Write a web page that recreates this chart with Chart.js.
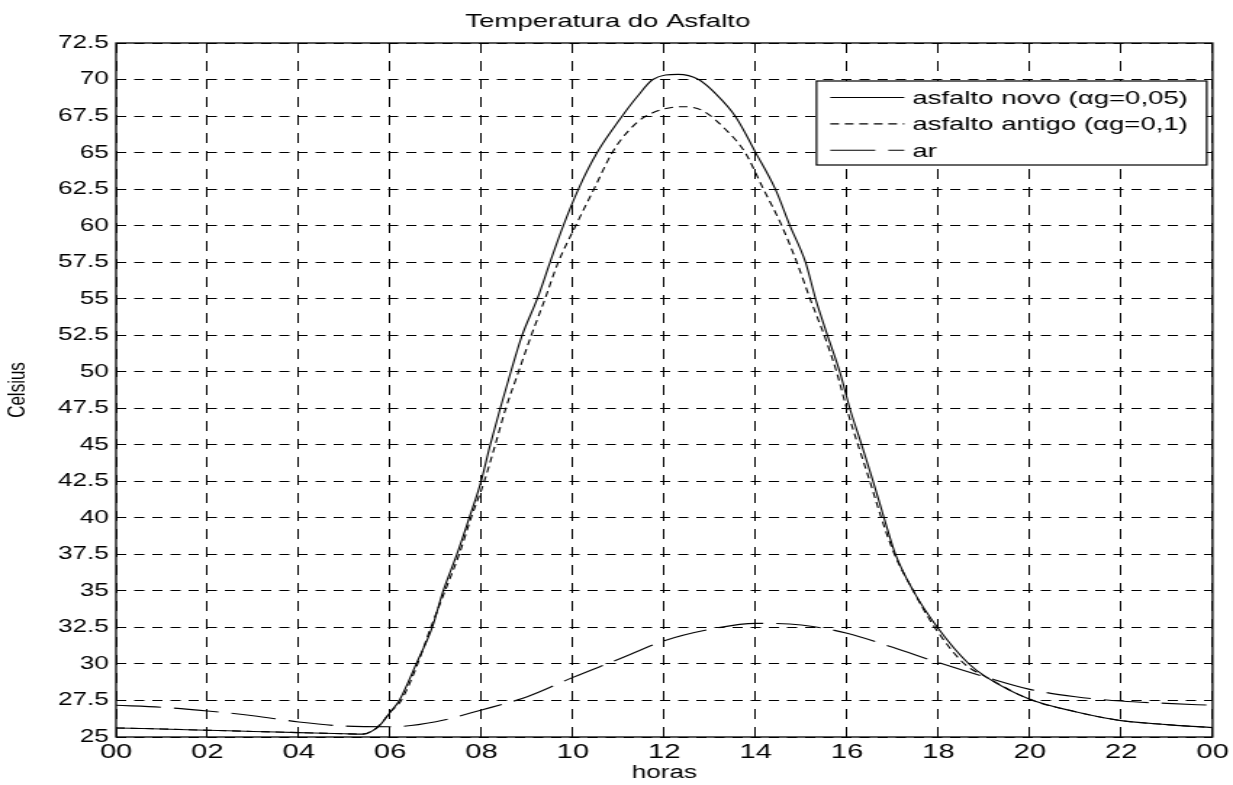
<!DOCTYPE html>
<html>
<head>
<meta charset="utf-8">
<title>Temperatura do Asfalto</title>
<script src="https://cdn.jsdelivr.net/npm/chart.js@4.4.1/dist/chart.umd.min.js"></script>
<style>
  html, body { margin: 0; padding: 0; background: #fff; overflow: hidden; }
  #grafico { display: block; }
</style>
</head>
<body>
<!-- the figure is drawn narrow and stretched sideways, like the original export -->
<canvas id="grafico" width="850" height="785" style="width:1233px;height:785px"></canvas>
<script>
// Values (hours, Celsius)
const novoHoras = [0, 1, 2, 3, 4, 5, 5.4, 5.6, 5.8, 6, 6.2, 6.57, 6.92, 7.16, 7.46, 7.73, 7.99, 8.19, 8.41, 8.64, 8.89, 9.22, 9.5, 9.79, 10.12, 10.53, 11.08, 11.4, 11.75, 12.3, 12.75, 13.15, 13.55, 14.0, 14.43, 14.75, 15.09, 15.31, 15.57, 15.84, 16.06, 16.32, 16.57, 16.81, 17.06, 17.45, 17.98, 18.67, 19.05, 20, 21, 22, 23, 24];
const novoTemp = [25.62, 25.55, 25.46, 25.38, 25.3, 25.22, 25.2, 25.4, 25.9, 26.7, 27.5, 30, 32.5, 35, 37.5, 40, 42.5, 45, 47.5, 50, 52.5, 55, 57.5, 60, 62.5, 65, 67.5, 68.8, 70, 70.35, 70, 68.95, 67.5, 65, 62.5, 60, 57.5, 55, 52.5, 50, 47.5, 45, 42.5, 40, 37.5, 35, 32.5, 30, 29.1, 27.58, 26.73, 26.12, 25.85, 25.64];

const antigoHoras = [0, 1, 2, 3, 4, 5, 5.4, 5.6, 5.8, 6, 6.24, 6.6, 6.89, 7.2, 7.51, 7.77, 8.06, 8.3, 8.53, 8.81, 9.09, 9.39, 9.68, 10.06, 10.46, 10.86, 11.22, 11.6, 12.4, 12.82, 13.4, 13.77, 14.17, 14.57, 14.9, 15.19, 15.5, 15.77, 15.99, 16.24, 16.5, 16.75, 17.04, 17.45, 17.92, 18.57, 19.05, 20, 21, 22, 23, 24];
const antigoTemp = [25.62, 25.55, 25.46, 25.38, 25.3, 25.22, 25.2, 25.4, 25.9, 26.7, 27.5, 30, 32.5, 35, 37.5, 40, 42.5, 45, 47.5, 50, 52.5, 55, 57.5, 60, 62.5, 65, 66.5, 67.5, 68.14, 67.9, 66.4, 65, 62.5, 60, 57.5, 55, 52.5, 50, 47.5, 45, 42.5, 40, 37.5, 35, 32.5, 30, 29.1, 27.58, 26.73, 26.12, 25.85, 25.64];

const arHoras = [0, 1, 2, 3, 4, 5, 6, 7, 8, 9, 10, 11, 12, 13, 14, 15, 16, 17, 18, 19, 20, 21, 22, 23, 24];
const arTemp = [27.17, 27.03, 26.78, 26.46, 26.03, 25.75, 25.7, 26.05, 26.85, 27.76, 29.08, 30.32, 31.59, 32.37, 32.78, 32.67, 32.1, 31.14, 30.09, 29.13, 28.26, 27.76, 27.46, 27.3, 27.17];

const xTickLabels = ['00', '02', '04', '06', '08', '10', '12', '14', '16', '18', '20', '22', '00'];
const fonte = '"Liberation Sans", Arial, Helvetica, sans-serif';

Chart.defaults.font.family = fonte;
Chart.defaults.color = '#000';

const pontos = (hs, vs) => hs.map((h, i) => ({ x: h, y: vs[i] }));

// box around the plot area
const moldura = {
    id: 'moldura',
    afterDatasetsDraw(chart) {
        const { ctx, chartArea } = chart;
        ctx.save();
        ctx.strokeStyle = '#000';
        ctx.lineWidth = 1.3;
        ctx.strokeRect(chartArea.left, chartArea.top, chartArea.width, chartArea.height);
        ctx.restore();
    }
};

// legend drawn inside the plot, top right, like matlab does
const legendaInterna = {
    id: 'legendaInterna',
    afterDraw(chart) {
        const { ctx, chartArea } = chart;
        const w = 269, h = 84;
        const x0 = chartArea.right - 4 - w;
        const y0 = chartArea.top + 38;
        ctx.save();
        ctx.fillStyle = '#fff';
        ctx.fillRect(x0, y0, w, h);
        ctx.strokeStyle = '#000';
        ctx.lineWidth = 1.2;
        ctx.strokeRect(x0, y0, w, h);
        ctx.font = '19px ' + fonte;
        ctx.textBaseline = 'middle';
        ctx.fillStyle = '#000';
        chart.data.datasets.forEach((ds, i) => {
            const y = y0 + 16.5 + i * 26.4;
            ctx.setLineDash(ds.borderDash || []);
            ctx.lineWidth = ds.borderWidth;
            ctx.beginPath();
            ctx.moveTo(x0 + 9.5, y);
            ctx.lineTo(x0 + 60.5, y);
            ctx.stroke();
            ctx.setLineDash([]);
            ctx.fillText(ds.label, x0 + 66, y + 1);
        });
        ctx.restore();
    }
};

const ctx = document.getElementById('grafico').getContext('2d');
const chart = new Chart(ctx, {
    type: 'line',
    data: {
        datasets: [
            {
                label: 'asfalto novo (αg=0,05)',
                data: pontos(novoHoras, novoTemp),
                borderColor: '#000',
                borderWidth: 1.1,
                borderDash: [],
                pointRadius: 0,
                cubicInterpolationMode: 'monotone'
            },
            {
                label: 'asfalto antigo (αg=0,1)',
                data: pontos(antigoHoras, antigoTemp),
                borderColor: '#000',
                borderWidth: 1.1,
                borderDash: [6, 4],
                pointRadius: 0,
                cubicInterpolationMode: 'monotone'
            },
            {
                label: 'ar',
                data: pontos(arHoras, arTemp),
                borderColor: '#000',
                borderWidth: 1.1,
                borderDash: [31, 9],
                pointRadius: 0,
                cubicInterpolationMode: 'monotone'
            }
        ]
    },
    options: {
        responsive: false,
        animation: false,
        layout: { padding: { left: 0, right: 12, top: 0, bottom: 0 } },
        plugins: {
            legend: { display: false },
            tooltip: { enabled: false },
            title: {
                display: true,
                text: 'Temperatura do Asfalto',
                color: '#000',
                font: { size: 19, weight: 'normal' },
                padding: { top: 10, bottom: 10.2 }
            }
        },
        scales: {
            x: {
                type: 'linear',
                min: 0,
                max: 24,
                afterFit: (s) => { s.height = 48; },
                ticks: {
                    stepSize: 2,
                    autoSkip: false,
                    maxRotation: 0,
                    padding: 3,
                    color: '#000',
                    font: { size: 20 },
                    callback: (v) => xTickLabels[Math.round(v / 2)]
                },
                grid: { color: '#000', lineWidth: 1, drawTicks: false },
                border: { display: false, dash: [10, 8] },
                title: {
                    display: true,
                    text: 'horas',
                    color: '#000',
                    font: { size: 18 },
                    padding: { top: 0, bottom: 1 }
                }
            },
            y: {
                type: 'linear',
                min: 25,
                max: 72.5,
                afterFit: (s) => { s.width = 80; },
                ticks: {
                    stepSize: 2.5,
                    autoSkip: false,
                    padding: 5,
                    color: '#000',
                    font: { size: 18 },
                    callback: (v) => String(v)
                },
                grid: { color: '#000', lineWidth: 1, drawTicks: false },
                border: { display: false, dash: [7, 5.5] },
                title: {
                    display: true,
                    text: 'Celsius',
                    color: '#000',
                    font: { size: 17 },
                    padding: { top: 2, bottom: 0 }
                }
            }
        }
    },
    plugins: [moldura, legendaInterna]
});
</script>
</body>
</html>
